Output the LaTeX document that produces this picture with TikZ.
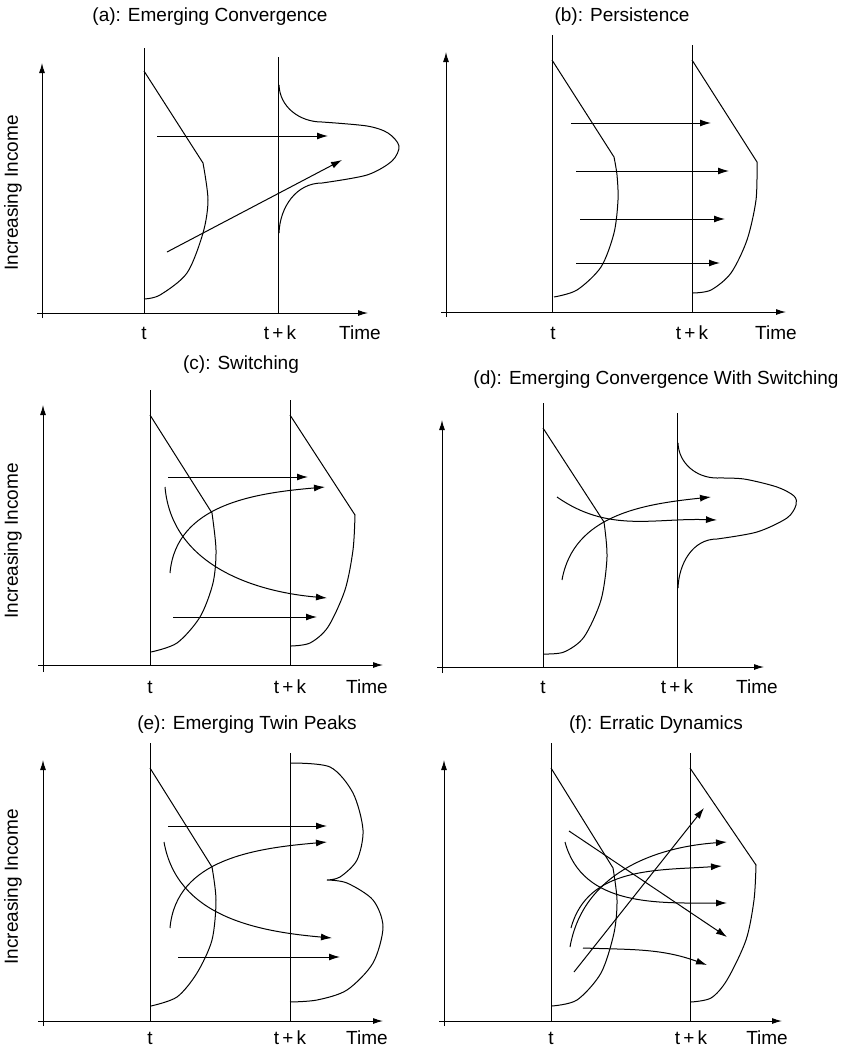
\documentclass[tikz,border=0pt]{standalone}
\usepackage{fontspec}
\setmainfont{Liberation Sans}
\usetikzlibrary{arrows.meta}

\tikzset{
  axis/.style={line width=1pt, -{Latex[length=10pt,width=6pt]}},
  timeline/.style={line width=1pt},
  dens/.style={line width=1pt},
  move/.style={line width=1pt, -{Latex[length=11pt,width=7pt]}},
  lab/.style={font=\fontsize{19}{22}\selectfont, inner sep=0pt},
  ttl/.style={font=\fontsize{19}{22}\selectfont, inner sep=0pt}
}

\begin{document}
\begin{tikzpicture}[x=1pt,y=-1pt]
  \useasboundingbox (0,0) rectangle (848,1050);

  % (a) Emerging Convergence
  \node[ttl] (titleA) at (210,17) {(a): Emerging Convergence};
  \draw[axis] (42,318) -- (42,63);
  \draw[axis] (37,313) -- (368,313);
  \draw[timeline] (144,48) -- (144,313);
  \draw[timeline] (278,57) -- (278,313);
  \node[lab] (tA) at (144,333) {t};
  \node[lab] (tkA) at (280,333) {t\,+\,k};
  \node[lab] (timeA) at (360,333) {Time};
  \node[lab, rotate=90] (incA) at (13,193) {Increasing Income};
  \draw[dens] (144,71) -- plot[smooth] coordinates {(203,163) (208,200) (203,233) (187,273) (160,295) (144,299)};
  \draw[dens] (279,85) to[out=-88,in=180] (322,122)
    -- plot[smooth] coordinates {(322,122) (367,126) (388,133) (399,146) (392,161) (367,175) (322,183)}
    to[out=180,in=88] (279,233);
  \draw[move] (157,136) -- (328,136);
  \draw[move] (167,252) -- (342,160);

  % (b) Persistence
  \node[ttl] (titleB) at (622,17) {(b): Persistence};
  \draw[axis] (446,317) -- (446,52);
  \draw[axis] (441,312) -- (786,312);
  \draw[timeline] (552,35) -- (552,312);
  \draw[timeline] (692,45) -- (692,312);
  \node[lab] (tB) at (553,333) {t};
  \node[lab] (tkB) at (692,333) {t\,+\,k};
  \node[lab] (timeB) at (776,333) {Time};
  \draw[dens] (552,60) -- plot[smooth] coordinates {(614,157) (617,175) (618,200) (614,233) (601,267) (577,290) (554,297)};
  \draw[dens] (692,60) -- plot[smooth] coordinates {(757,162) (756,200) (747,240) (731,273) (711,290) (693,293)};
  \foreach \ya/\xa/\xb in {123/571/711, 171/576/729, 219/580/725, 263/576/720}
    \draw[move] (\xa,\ya) -- (\xb,\ya);

  % (c) Switching
  \node[ttl] (titleC) at (241,365) {(c): Switching};
  \draw[axis] (43,672) -- (43,405);
  \draw[axis] (38,665) -- (383,665);
  \draw[timeline] (150,390) -- (150,665);
  \draw[timeline] (290,400) -- (290,665);
  \node[lab] (tC) at (150,687) {t};
  \node[lab] (tkC) at (290,687) {t\,+\,k};
  \node[lab] (timeC) at (367,687) {Time};
  \node[lab, rotate=90] (incC) at (13,541) {Increasing Income};
  \draw[dens] (150,415) -- plot[smooth] coordinates {(212,513) (216,550) (213,583) (200,617) (177,643) (151,652)};
  \draw[dens] (290,415) -- plot[smooth] coordinates {(355,515) (353,550) (345,590) (328,627) (310,643) (291,646)};
  \draw[move] (168,477) -- (308,477);
  \draw[move] (170,573) to[out=85,in=185] (325,487);
  \draw[move] (165,487) to[out=-85,in=175] (327,598);
  \draw[move] (173,617) -- (317,617);

  % (d) Emerging Convergence With Switching
  \node[ttl] (titleD) at (656,380) {(d): Emerging Convergence With Switching};
  \draw[axis] (442,673) -- (442,420);
  \draw[axis] (437,667) -- (764,667);
  \draw[timeline] (543,403) -- (543,667);
  \draw[timeline] (677,413) -- (677,667);
  \node[lab] (tD) at (543,687) {t};
  \node[lab] (tkD) at (677,687) {t\,+\,k};
  \node[lab] (timeD) at (757,687) {Time};
  \draw[dens] (543,428) -- plot[smooth] coordinates {(604,522) (607,557) (601,600) (584,637) (564,652) (544,654)};
  \draw[dens] (678,443) to[out=-88,in=180] (717,478)
    -- plot[smooth] coordinates {(717,478) (744,479) (777,487) (794,496) (796,505) (787,518) (757,532) (717,539)}
    to[out=180,in=88] (678,588);
  \draw[move] (557,497) to[out=-35,in=178] (717,520);
  \draw[move] (562,580) to[out=80,in=186] (711,497);

  % (e) Emerging Twin Peaks
  \node[ttl] (titleE) at (247,725) {(e): Emerging Twin Peaks};
  \draw[axis] (43,1026) -- (43,760);
  \draw[axis] (38,1021) -- (383,1021);
  \draw[timeline] (150,743) -- (150,1021);
  \draw[timeline] (290,753) -- (290,1021);
  \node[lab] (tE) at (150,1038) {t};
  \node[lab] (tkE) at (290,1038) {t\,+\,k};
  \node[lab] (timeE) at (367,1038) {Time};
  \node[lab, rotate=90] (incE) at (13,887) {Increasing Income};
  \draw[dens] (150,768) -- plot[smooth] coordinates {(212,867) (216,900) (212,940) (197,973) (177,997) (151,1006)};
  \draw[dens] plot[smooth] coordinates {(290,763) (330,767) (353,793) (363,830) (357,860) (340,877) (327,880)}
    -- plot[smooth] coordinates {(327,880) (347,883) (373,900) (383,927) (373,963) (347,990) (317,1000) (290,1002)};
  \draw[move] (168,826) -- (327,826);
  \draw[move] (170,928) to[out=85,in=185] (327,842);
  \draw[move] (164,842) to[out=-80,in=175] (332,938);
  \draw[move] (178,957) -- (340,957);

  % (f) Erratic Dynamics
  \node[ttl] (titleF) at (656,725) {(f): Erratic Dynamics};
  \draw[axis] (444,1026) -- (444,760);
  \draw[axis] (439,1021) -- (782,1021);
  \draw[timeline] (551,743) -- (551,1021);
  \draw[timeline] (690,753) -- (690,1021);
  \node[lab] (tF) at (551,1038) {t};
  \node[lab] (tkF) at (691,1038) {t\,+\,k};
  \node[lab] (timeF) at (767,1038) {Time};
  \draw[dens] (551,768) -- plot[smooth] coordinates {(613,868) (617,900) (614,933) (601,973) (577,1000) (552,1006)};
  \draw[dens] (690,768) -- plot[smooth] coordinates {(756,865) (754,900) (746,940) (727,980) (711,998) (691,1002)};
  \draw[move] (574,972) -- (704,808);
  \draw[move] (569,831) -- (727,937);
  \draw[move] (565,842) to[out=-75,in=180] (727,903);
  \draw[move] (570,947) to[out=80,in=184] (727,842);
  \draw[move] (571,928) to[out=75,in=184] (722,866);
  \draw[move] (583,948) to[out=-2,in=160] (707,965);

\end{tikzpicture}
\end{document}
